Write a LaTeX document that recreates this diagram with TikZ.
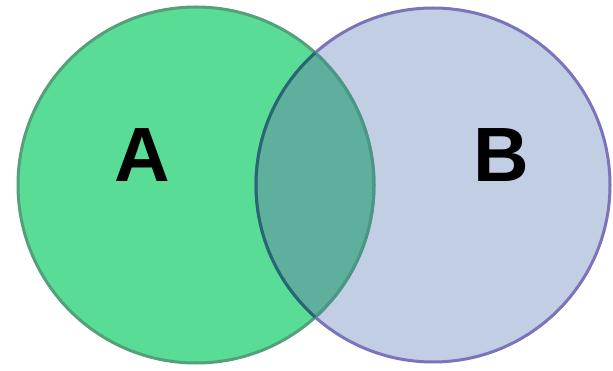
\documentclass[tikz,border=0pt]{standalone}
\usepackage{fontspec}
\setmainfont{Liberation Sans}
\definecolor{afill}{RGB}{88,220,150}
\definecolor{aline}{RGB}{84,160,122}
\definecolor{bfill}{RGB}{194,206,228}
\definecolor{bline}{RGB}{122,116,186}
\definecolor{abfill}{RGB}{94,176,156}
\definecolor{bline2}{RGB}{36,104,112}
\definecolor{aline2}{RGB}{76,150,136}
\tikzset{lbl/.style={font=\fontsize{77}{77}\selectfont\bfseries, text=black, inner sep=0pt}}
\begin{document}
\begin{tikzpicture}[x=1pt,y=-1pt]
\useasboundingbox (0,0) rectangle (613,371);
\fill[white] (0,0) rectangle (613,371);
\coordinate (ca) at (196,185);
\coordinate (cb) at (433,185);
\fill[afill] (ca) circle (178);
\fill[bfill] (cb) circle (177);
\begin{scope}
\clip (ca) circle (178);
\fill[abfill] (cb) circle (177);
\end{scope}
\draw[aline, line width=3] (ca) circle (178);
\draw[bline, line width=3] (cb) circle (177);
\begin{scope}
\clip (cb) circle (177);
\draw[aline2, line width=3] (ca) circle (178);
\end{scope}
\begin{scope}
\clip (ca) circle (178);
\draw[bline2, line width=3] (cb) circle (177);
\end{scope}
\node[lbl] (la) at (142,155) {A};
\node[lbl] (lb) at (501,155) {B};
\end{tikzpicture}
\end{document}
